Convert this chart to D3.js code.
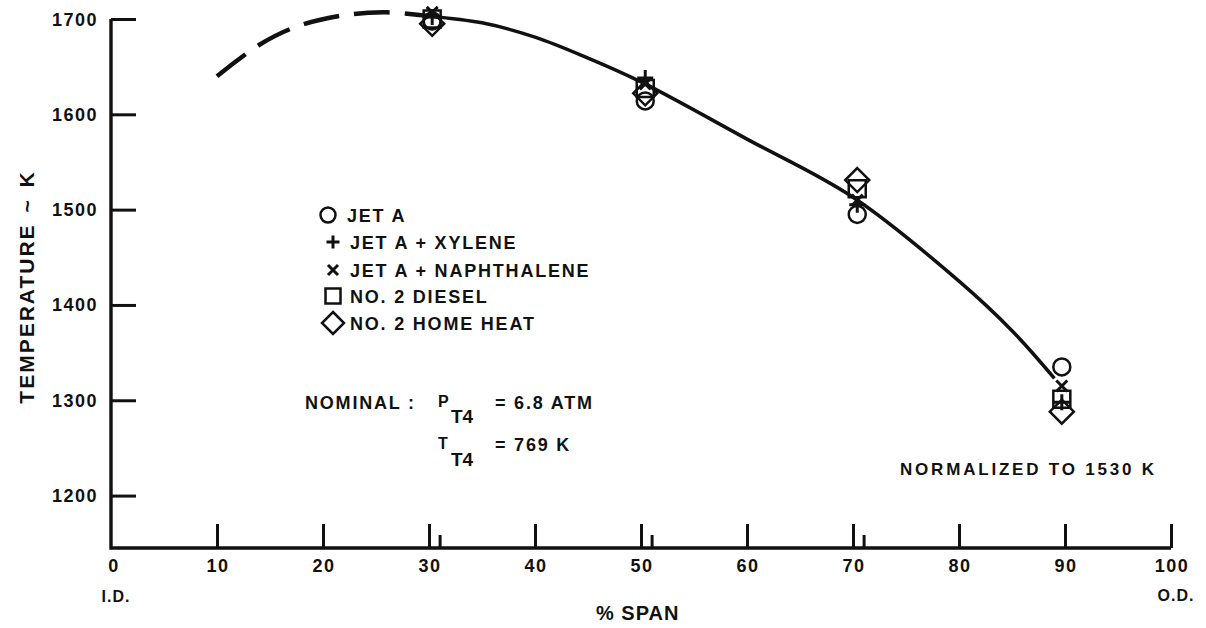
<!DOCTYPE html>
<html>
<head>
<meta charset="utf-8">
<script src="https://cdn.jsdelivr.net/npm/d3@7"></script>
<style>
  html, body { margin: 0; padding: 0; background: #fff; }
  svg { display: block; }
  text { font-family: "Liberation Sans", Arial, Helvetica, sans-serif; fill: #111; font-weight: bold; }
</style>
</head>
<body>
<svg id="chart" width="1206" height="628"></svg>
<script>
// ---------------- DATA ----------------
const xTicks = [0, 10, 20, 30, 40, 50, 60, 70, 80, 90, 100];
const xMinorTicks = [31, 51, 71];
const yTicks = [1200, 1300, 1400, 1500, 1600, 1700];

const spanPositions = [30.3, 50.4, 70.4, 89.7];
const jetA        = [1698, 1614, 1495, 1335];
const jetAXylene  = [1702, 1638, 1505, 1298];
const jetANaph    = [1707, 1632, 1510, 1315];
const diesel      = [1700, 1627, 1522, 1301];
const homeHeat    = [1695, 1622, 1531, 1288];

const dashedSpan = [10, 14, 17.5, 22, 26, 30];
const dashedTemp = [1640, 1673, 1692, 1704, 1707, 1703];
const solidSpan  = [30, 35, 40, 45, 50, 60, 70, 80, 85, 89];
const solidTemp  = [1703, 1696, 1681, 1659, 1634, 1574, 1513, 1425, 1373, 1323];

const seriesNames = ["JET A", "JET A + XYLENE", "JET A + NAPHTHALENE", "NO. 2 DIESEL", "NO. 2 HOME HEAT"];
const seriesSymbols = ["circle", "plus", "x", "square", "diamond"];

// ---------------- SETUP ----------------
const svg = d3.select("#chart");
const x = d3.scaleLinear().domain([0, 100]).range([111, 1171]);
const y = d3.scaleLinear().domain([1145, 1700]).range([548, 19]);

const ink = "#111";

function symbolPath(type, s) {
  switch (type) {
    case "circle": return d3.symbol().type(d3.symbolCircle).size(Math.PI * s.r * s.r)();
    case "plus":   return `M${-s.p},0H${s.p}M0,${-s.p}V${s.p}`;
    case "x":      return `M${-s.x},${-s.x}L${s.x},${s.x}M${-s.x},${s.x}L${s.x},${-s.x}`;
    case "square": return `M${-s.q},${-s.q}H${s.q}V${s.q}H${-s.q}Z`;
    case "diamond":return `M0,${-s.d}L${s.d},0L0,${s.d}L${-s.d},0Z`;
  }
}
const dataSize = { r: 8.5, p: 8, x: 5.5, q: 8.5, d: 12 };
const legSize  = { r: 7.5, p: 6.5, x: 5, q: 7.5, d: 11 };

// ---------------- AXES ----------------
const yAxis = d3.axisRight(y).tickValues(yTicks).tickSize(25).tickFormat("");
const gy = svg.append("g").attr("transform", `translate(${x(0)},0)`).call(yAxis);
gy.select(".domain").remove();
gy.selectAll(".tick line").attr("stroke", ink).attr("stroke-width", 3);

const xAxis = d3.axisTop(x).tickValues(xTicks.slice(1)).tickSize(24).tickFormat("");
const gx = svg.append("g").attr("transform", `translate(0,${y(1145)})`).call(xAxis);
gx.select(".domain").remove();
gx.selectAll(".tick line").attr("stroke", ink).attr("stroke-width", 3);

const xAxisMinor = d3.axisTop(x).tickValues(xMinorTicks).tickSize(13).tickFormat("");
const gxm = svg.append("g").attr("transform", `translate(0,${y(1145)})`).call(xAxisMinor);
gxm.select(".domain").remove();
gxm.selectAll(".tick line").attr("stroke", ink).attr("stroke-width", 3);

svg.append("path")
  .attr("d", `M${x(0)},${y(1700)}V${y(1145)}H${x(100)}`)
  .attr("fill", "none").attr("stroke", ink).attr("stroke-width", 3.4);

// Y tick labels
svg.append("g").selectAll("text").data(yTicks).join("text")
  .attr("x", 98).attr("y", d => y(d) + 6.5)
  .attr("text-anchor", "end")
  .attr("font-size", 18).attr("letter-spacing", "1.5px")
  .text(d => d);

// X tick labels
svg.append("g").selectAll("text").data(xTicks).join("text")
  .attr("x", d => x(d) + (d === 0 ? 3 : 1)).attr("y", 572)
  .attr("text-anchor", "middle")
  .attr("font-size", 18).attr("letter-spacing", "1.5px")
  .text(d => d);

svg.append("text").attr("x", 116).attr("y", 602).attr("text-anchor", "middle")
  .attr("font-size", 16).attr("letter-spacing", "1px").text("I.D.");
svg.append("text").attr("x", 1176).attr("y", 601).attr("text-anchor", "middle")
  .attr("font-size", 16).attr("letter-spacing", "1px").text("O.D.");

svg.append("text").attr("x", 596).attr("y", 620)
  .attr("font-size", 20).attr("letter-spacing", "1px")
  .text("% SPAN");

svg.append("text")
  .attr("transform", "translate(34,287) rotate(-90)")
  .attr("text-anchor", "middle")
  .attr("font-size", 21).attr("letter-spacing", "2px").attr("word-spacing", "3px")
  .text("TEMPERATURE ~ K");

// ---------------- CURVES ----------------
const line = d3.line().x(d => x(d[0])).y(d => y(d[1])).curve(d3.curveCatmullRom.alpha(0.5));

svg.append("path")
  .attr("d", line(dashedSpan.map((s, i) => [s, dashedTemp[i]])))
  .attr("fill", "none").attr("stroke", ink).attr("stroke-width", 4.5)
  .attr("stroke-dasharray", "36 15");

svg.append("path")
  .attr("d", line(solidSpan.map((s, i) => [s, solidTemp[i]])))
  .attr("fill", "none").attr("stroke", ink).attr("stroke-width", 3.5);

// ---------------- MARKERS ----------------
const allSeries = [jetA, jetAXylene, jetANaph, diesel, homeHeat];
const markerG = svg.append("g");
allSeries.forEach((vals, si) => {
  markerG.append("g").selectAll("path")
    .data(vals.map((v, i) => [spanPositions[i], v]))
    .join("path")
    .attr("transform", d => `translate(${x(d[0])},${y(d[1])})`)
    .attr("d", symbolPath(seriesSymbols[si], dataSize))
    .attr("fill", "none").attr("stroke", ink)
    .attr("stroke-width", seriesSymbols[si] === "plus" || seriesSymbols[si] === "x" ? 3 : 2.5);
});

// ---------------- LEGEND ----------------
const legendRowY = [215, 242, 270, 296, 323];
const legend = svg.append("g");
seriesNames.forEach((name, i) => {
  legend.append("path")
    .attr("transform", `translate(${i === 0 ? 328 : 333},${legendRowY[i]})`)
    .attr("d", symbolPath(seriesSymbols[i], legSize))
    .attr("fill", "none").attr("stroke", ink)
    .attr("stroke-width", seriesSymbols[i] === "plus" || seriesSymbols[i] === "x" ? 3 : 2.5);
  legend.append("text")
    .attr("x", i === 0 ? 347 : 350).attr("y", legendRowY[i] + 6.5)
    .attr("font-size", 18).attr("letter-spacing", "1.8px")
    .text(name);
});

// ---------------- ANNOTATIONS ----------------
const ann = svg.append("g").attr("font-size", 18).attr("letter-spacing", "1.8px");
ann.append("text").attr("x", 305).attr("y", 409).text("NOMINAL :");
ann.append("text").attr("x", 438).attr("y", 407).attr("font-size", 16).attr("letter-spacing", "0px").text("P");
ann.append("text").attr("x", 451).attr("y", 423).attr("font-size", 19).attr("letter-spacing", "0px").text("T4");
ann.append("text").attr("x", 495).attr("y", 409).text("= 6.8 ATM");
ann.append("text").attr("x", 438).attr("y", 449).attr("font-size", 16).attr("letter-spacing", "0px").text("T");
ann.append("text").attr("x", 451).attr("y", 466).attr("font-size", 19).attr("letter-spacing", "0px").text("T4");
ann.append("text").attr("x", 495).attr("y", 451).text("= 769 K");
ann.append("text").attr("x", 900).attr("y", 475).attr("font-size", 17).attr("letter-spacing", "2.8px").text("NORMALIZED TO 1530 K");
</script>
</body>
</html>
